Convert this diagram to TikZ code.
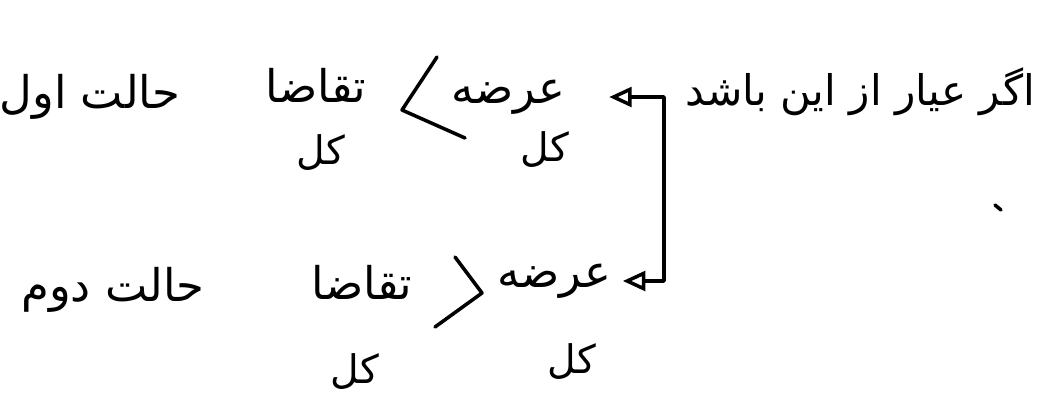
\documentclass[tikz,border=0pt]{standalone}
\usepackage{fontspec}
\newfontfamily\arabicfont[Script=Arabic]{DejaVu Sans}
\TeXXeTstate=1
\usetikzlibrary{arrows.meta}

\begin{document}
\begin{tikzpicture}
        [x=0.025cm,y=-0.025cm,line width=2.5pt,line cap=round,line join=round,
         every node/.style={inner sep=0,font=\arabicfont\fontsize{32}{38}\selectfont},
         kol/.style={font=\arabicfont\fontsize{28}{32}\selectfont},
         arr/.style={{Triangle[open,length=16pt,width=14pt]}-{Triangle[open,length=16pt,width=14pt]}}]
        \useasboundingbox (0,0) rectangle (1039,408);

        \node[font=\arabicfont\fontsize{30}{36}\selectfont] (cond) at (860,92) {\beginR اگر عیار از این باشد\endR};

        \node (h1) at (90,97) {\beginR حالت اول\endR};
        \node (d1) at (316,85) {\beginR تقاضا\endR};
        \node[kol] (k1) at (321,153) {\beginR کل\endR};
        \node[anchor=east] (s1) at (567,97) {\beginR عرضه\endR};
        \node[kol] (k2) at (545,150) {\beginR کل\endR};

        \node (h2) at (113,290) {\beginR حالت دوم\endR};
        \node (d2) at (362,282) {\beginR تقاضا\endR};
        \node[kol] (k3) at (355,372) {\beginR کل\endR};
        \node[anchor=east] (s2) at (613,281) {\beginR عرضه\endR};
        \node[kol] (k4) at (572,362) {\beginR کل\endR};

        \coordinate (c1) at (664,100);

        % signs
        \draw (437,57) -- (402,110) -- (465,138);
        \draw (455,257) -- (482,293) -- (435,327);
        \draw (995,205) -- (1001,210);

        \draw[arr,shorten <=30pt,shorten >=7pt] (s1.east) -- (s1.east -| c1) -- (s2.east -| c1) -- (s2.east);
      \end{tikzpicture}
\end{document}
